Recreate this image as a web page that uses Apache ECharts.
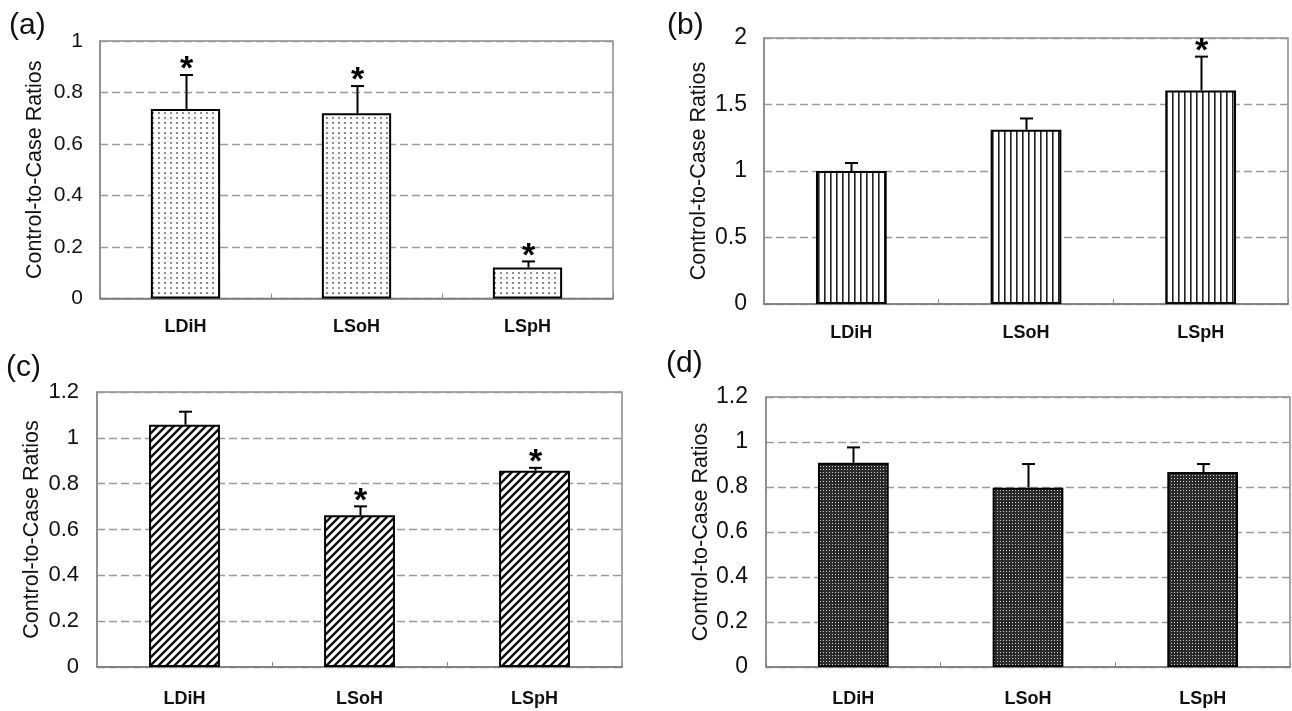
<!DOCTYPE html>
<html>
<head>
<meta charset="utf-8">
<script src="https://cdn.jsdelivr.net/npm/echarts@6/dist/echarts.min.js"></script>
<style>
html,body{margin:0;padding:0;background:#fff;}
#chart{width:1292px;height:711px;}
</style>
</head>
<body>
<div id="chart"></div>
<script>
// ---- data ----
const categories = ['LDiH', 'LSoH', 'LSpH'];
const panelLabels = ['(a)', '(b)', '(c)', '(d)'];
const yAxisName = 'Control-to-Case Ratios';

const aValues = [0.736, 0.719, 0.12];
const aErrors = [0.132, 0.106, 0.024];
const aSig = [true, true, true];

const bValues = [1.0, 1.31, 1.606];
const bErrors = [0.06, 0.085, 0.254];
const bSig = [false, false, true];

const cValues = [1.057, 0.662, 0.856];
const cErrors = [0.057, 0.039, 0.013];
const cSig = [false, true, true];

const dValues = [0.908, 0.797, 0.867];
const dErrors = [0.068, 0.105, 0.035];
const dSig = [false, false, false];

const yMax = [1, 2, 1.2, 1.2];
const yInterval = [0.2, 0.5, 0.2, 0.2];

// ---- patterns ----
function tile(w, h, draw) {
  const c = document.createElement('canvas');
  c.width = w; c.height = h;
  const ctx = c.getContext('2d');
  ctx.fillStyle = '#fff';
  ctx.fillRect(0, 0, w, h);
  draw(ctx);
  return { image: c, repeat: 'repeat' };
}
const dotsPattern = tile(6, 5, ctx => {
  ctx.fillStyle = '#8a8a8a';
  ctx.fillRect(2, 2, 2, 2);
});
const vlinePattern = tile(6, 6, ctx => {
  ctx.fillStyle = '#222';
  ctx.fillRect(2, 0, 1.6, 6);
});
const hatchPattern = tile(8, 8, ctx => {
  ctx.strokeStyle = '#111';
  ctx.lineWidth = 2.4;
  ctx.beginPath();
  ctx.moveTo(-2, 10); ctx.lineTo(10, -2);
  ctx.moveTo(-2, 2); ctx.lineTo(2, -2);
  ctx.moveTo(6, 10); ctx.lineTo(10, 6);
  ctx.stroke();
});
const densePattern = tile(3, 3, ctx => {
  ctx.fillStyle = '#2a2a2a';
  ctx.fillRect(0, 0, 3, 3);
  ctx.fillStyle = '#d0d0d0';
  ctx.fillRect(1, 1, 1, 1);
});

const FONT = 'Liberation Sans, Arial, sans-serif';
const panels = [
  { values: aValues, errors: aErrors, sig: aSig, fill: dotsPattern, tickFont: 21, tickMargin: 17,
    grid: { left: 100, top: 41, width: 513, height: 257.5 }, labelMargin: 20, title: { left: 9, top: 11 } },
  { values: bValues, errors: bErrors, sig: bSig, fill: vlinePattern, tickFont: 23, tickMargin: 17,
    grid: { left: 764, top: 38, width: 524, height: 266 }, labelMargin: 20, title: { left: 667, top: 11 } },
  { values: cValues, errors: cErrors, sig: cSig, fill: hatchPattern, tickFont: 22, tickMargin: 18,
    grid: { left: 97, top: 392, width: 525, height: 275 }, labelMargin: 23, title: { left: 6, top: 353 } },
  { values: dValues, errors: dErrors, sig: dSig, fill: densePattern, tickFont: 23, tickMargin: 18,
    grid: { left: 766, top: 397, width: 524, height: 270 }, labelMargin: 23, title: { left: 666, top: 349 } }
];

const option = {
  animation: false,
  backgroundColor: '#fff',
  title: panels.map((p, i) => ({
    text: panelLabels[i], left: p.title.left, top: p.title.top, padding: 0,
    textStyle: { fontFamily: FONT, fontSize: 30, fontWeight: 'normal', color: '#111' }
  })),
  grid: panels.map(p => Object.assign({ show: true, borderColor: '#8a8a8a', borderWidth: 1.5, backgroundColor: 'transparent' }, p.grid)),
  xAxis: panels.map((p, i) => ({
    type: 'category', gridIndex: i, data: categories,
    axisLine: { lineStyle: { color: '#7a7a7a', width: 1.5 } },
    axisTick: { show: true, inside: true, length: 5, lineStyle: { color: '#8a8a8a', width: 1 } },
    axisLabel: { fontFamily: FONT, fontSize: 18, fontWeight: 'bold', color: '#111', margin: p.labelMargin }
  })),
  yAxis: panels.map((p, i) => ({
    type: 'value', gridIndex: i, min: 0, max: yMax[i], interval: yInterval[i],
    name: yAxisName, nameLocation: 'middle', nameGap: 54, nameRotate: 90,
    nameTextStyle: { fontFamily: FONT, fontSize: 21.5, color: '#111' },
    axisLine: { show: true, lineStyle: { color: '#8a8a8a', width: 1.5 } },
    axisTick: { show: false },
    axisLabel: { fontFamily: FONT, fontSize: p.tickFont, color: '#111', margin: p.tickMargin },
    splitLine: { show: true, lineStyle: { color: '#9a9a9a', width: 1.3, type: [8, 4] } }
  })),
  series: []
};

panels.forEach((p, i) => {
  option.series.push({
    type: 'bar', xAxisIndex: i, yAxisIndex: i, data: p.values, barWidth: '40.5%',
    itemStyle: { color: p.fill, borderColor: '#000', borderWidth: 2 },
    z: 2
  });
  option.series.push({
    type: 'custom', xAxisIndex: i, yAxisIndex: i, z: 3,
    data: p.values.map((v, k) => [k, v, p.errors[k], p.sig[k] ? 1 : 0]),
    renderItem: function (params, api) {
      const k = api.value(0), v = api.value(1), e = api.value(2), s = api.value(3);
      const base = api.coord([k, v]);
      const top = api.coord([k, v + e]);
      const x = Math.round(base[0]) + 0.5;
      const children = [
        { type: 'line', shape: { x1: x, y1: base[1], x2: x, y2: top[1] }, style: { stroke: '#000', lineWidth: 2 } },
        { type: 'line', shape: { x1: x - 6.5, y1: top[1], x2: x + 6.5, y2: top[1] }, style: { stroke: '#000', lineWidth: 2 } }
      ];
      if (s) {
        children.push({ type: 'text', x: x, y: top[1] - 5,
          style: { text: '*', fontFamily: FONT, fontSize: 34, fontWeight: 'bold', fill: '#000', align: 'center', verticalAlign: 'middle' } });
      }
      return { type: 'group', children: children };
    }
  });
});

const chart = echarts.init(document.getElementById('chart'), null, { renderer: 'canvas' });
chart.setOption(option);
</script>
</body>
</html>
